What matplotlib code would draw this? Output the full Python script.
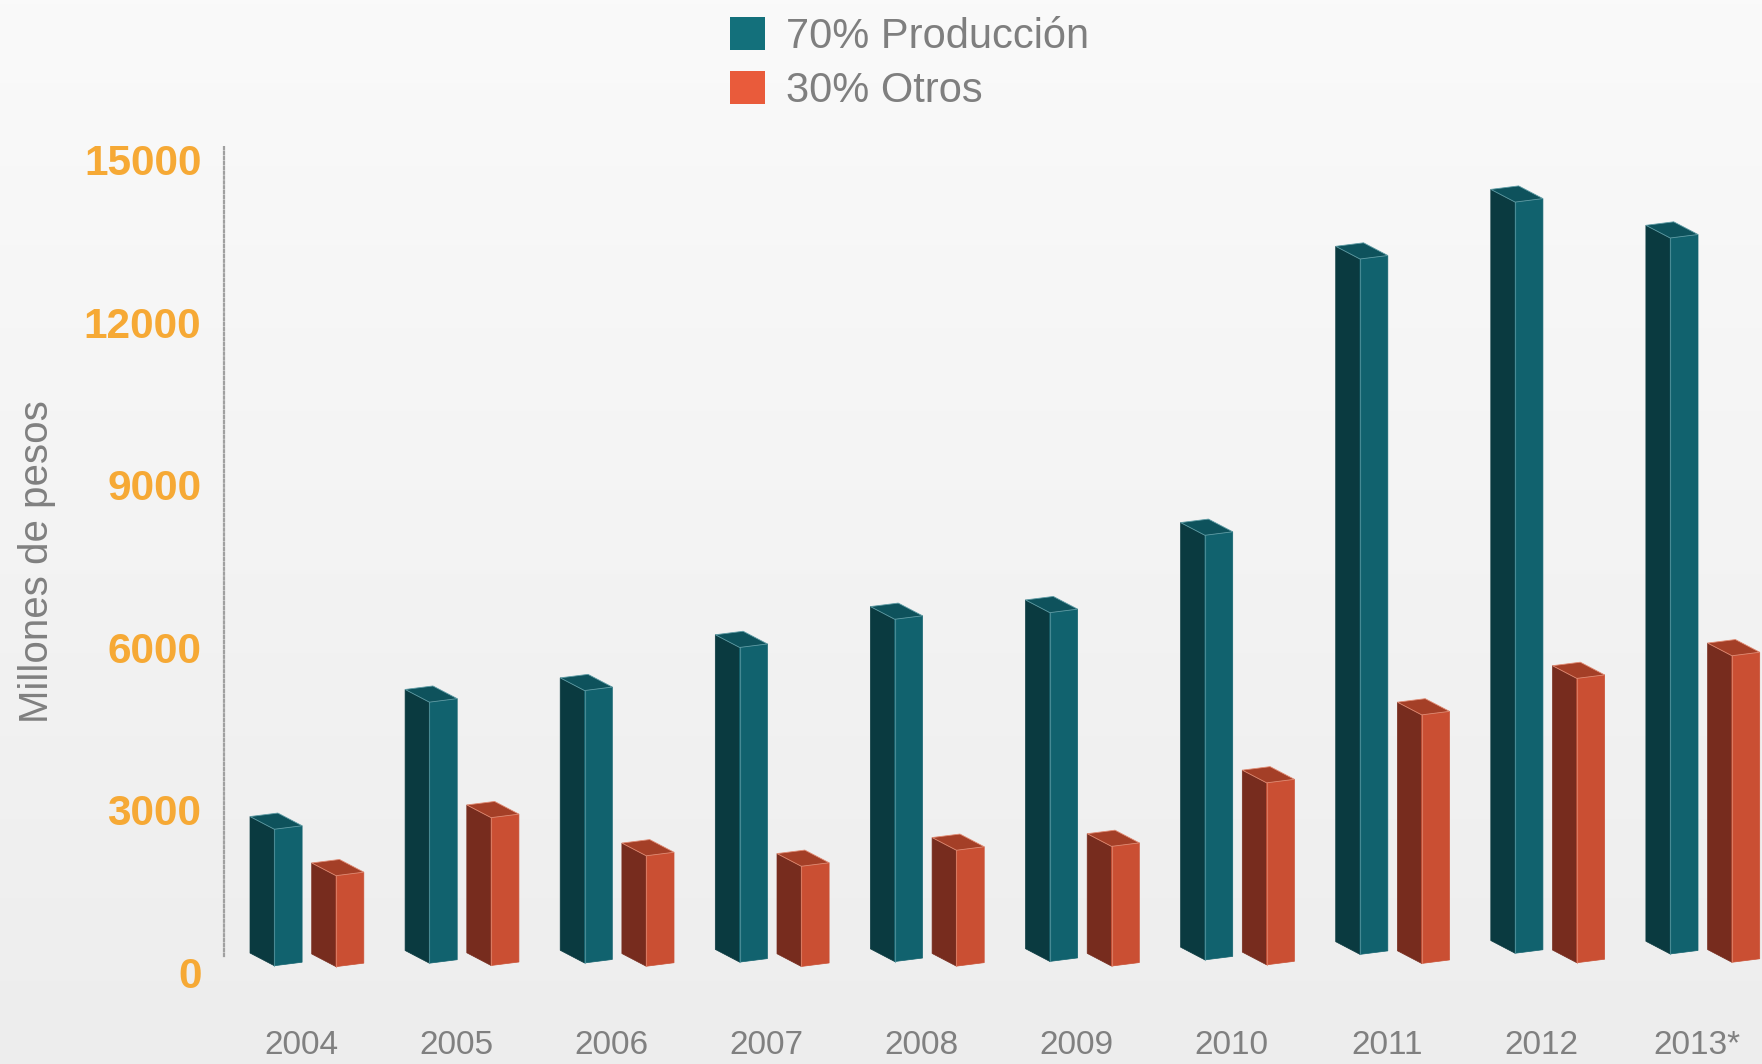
import numpy as np
import matplotlib
matplotlib.use('Agg')
import matplotlib.pyplot as plt
from matplotlib.patches import Polygon, Patch
from matplotlib.colors import LinearSegmentedColormap

# ---------------- data ----------------
years = ['2004', '2005', '2006', '2007', '2008', '2009', '2010', '2011', '2012', '2013*']
produccion = [2520, 4820, 5030, 5810, 6320, 6440, 7840, 12840, 13870, 13220]
otros = [1680, 2730, 2040, 1850, 2140, 2210, 3360, 4590, 5250, 5660]
yticks = [0, 3000, 6000, 9000, 12000, 15000]
series_labels = ['70% Producción', '30% Otros']
ylabel = 'Millones de pesos'

# ---------------- style ----------------
FONT = ['Liberation Sans', 'DejaVu Sans']
blue = dict(front='#11626E', left='#0A3A40', top='#0E525C', edge='#5E9BA4', legend='#13707B')
orange = dict(front='#CA4F33', left='#772C1E', top='#A43F27', edge='#E08A72', legend='#E95B3B')
gray = '#808080'
tick_color = '#F6A935'

W, H = 1762, 1064
fig = plt.figure(figsize=(W / 100, H / 100), dpi=100)

# background gradient
bg = fig.add_axes([0, 0, 1, 1])
cmap = LinearSegmentedColormap.from_list('bg', ['#EDEDED', '#FAFAFA'])
bg.imshow(np.linspace(0, 1, 256).reshape(-1, 1), aspect='auto', cmap=cmap,
          extent=[0, 1, 0, 1], origin='lower')
bg.axis('off')

# main axes (pixel geometry -> data units)
X_PER_PX = 1 / 155.1
Y_PER_PX = 18.465
left_px, bottom_px = 223.6, 1010
ax = fig.add_axes([left_px / W, (H - bottom_px) / H, 1 - left_px / W, bottom_px / H])
ax.patch.set_alpha(0)
ax.set_xlim((left_px - 301) * X_PER_PX, (W - 301) * X_PER_PX)
ax.set_ylim((972 - bottom_px) * Y_PER_PX, 972 * Y_PER_PX)

# 3D-like bar geometry (oblique projection)
LW = 24.3 * X_PER_PX     # left (shaded) face width
RW = 27.8 * X_PER_PX     # front face width
LR = 12.7 * Y_PER_PX     # rise of the left face
RR = 3.5 * Y_PER_PX      # rise of the front face
BASE = 3.5 * Y_PER_PX    # base offset
LIFT = 0.0203            # perspective lift of the base with height


def bar3d(ax, xm, v, c):
    yb = BASE + LIFT * v
    yt = yb + v
    left = [(xm - LW, yb + LR), (xm, yb), (xm, yt), (xm - LW, yt + LR)]
    front = [(xm, yb), (xm + RW, yb + RR), (xm + RW, yt + RR), (xm, yt)]
    top = [(xm - LW, yt + LR), (xm, yt), (xm + RW, yt + RR), (xm - LW + RW, yt + LR + RR)]
    ax.add_patch(Polygon(left, closed=True, fc=c['left'], ec=c['left'], lw=0.5, zorder=3))
    ax.add_patch(Polygon(front, closed=True, fc=c['front'], ec=c['front'], lw=0.5, zorder=3))
    ax.add_patch(Polygon(top, closed=True, fc=c['top'], ec=c['edge'], lw=0.6, zorder=3))
    ax.plot([xm, xm], [yb, yt], color=c['edge'], lw=0.8, alpha=0.7, zorder=4)


for i, (p, o) in enumerate(zip(produccion, otros)):
    bar3d(ax, i - 0.1721, p, blue)
    bar3d(ax, i + 0.2257, o, orange)

# axes styling
for s in ['top', 'right', 'bottom']:
    ax.spines[s].set_visible(False)
ax.spines['left'].set_linestyle((0, (1.0, 1.2)))
ax.spines['left'].set_color('#A0A0A0')
ax.spines['left'].set_linewidth(1.6)
ax.spines['left'].set_bounds(300, 15250)

ax.set_yticks(yticks)
ax.set_yticklabels([str(t) for t in yticks], color=tick_color, fontsize=30.5,
                   fontfamily=FONT, fontweight='bold')
ax.tick_params(axis='y', length=0, pad=16)

ax.set_xticks(range(len(years)))
ax.set_xticklabels(years, color=gray, fontsize=24, fontfamily=FONT)
ax.tick_params(axis='x', length=0, pad=14.5)

fig.text(37 / W, 1 - 562 / H, ylabel, rotation=90, ha='center', va='center',
         fontsize=29, fontfamily=FONT, color=gray)

handles = [Patch(fc=blue['legend'], ec='none'), Patch(fc=orange['legend'], ec='none')]
fig.legend(handles=handles, labels=series_labels, loc='upper left',
           bbox_to_anchor=(730 / W, 1 - 17 / H), frameon=False,
           prop=dict(family=FONT, size=30), labelcolor='#7F7F7F',
           handlelength=0.84, handleheight=0.84, handletextpad=0.5,
           labelspacing=0.33, borderpad=0, borderaxespad=0)

fig.savefig('out.png', dpi=100)
